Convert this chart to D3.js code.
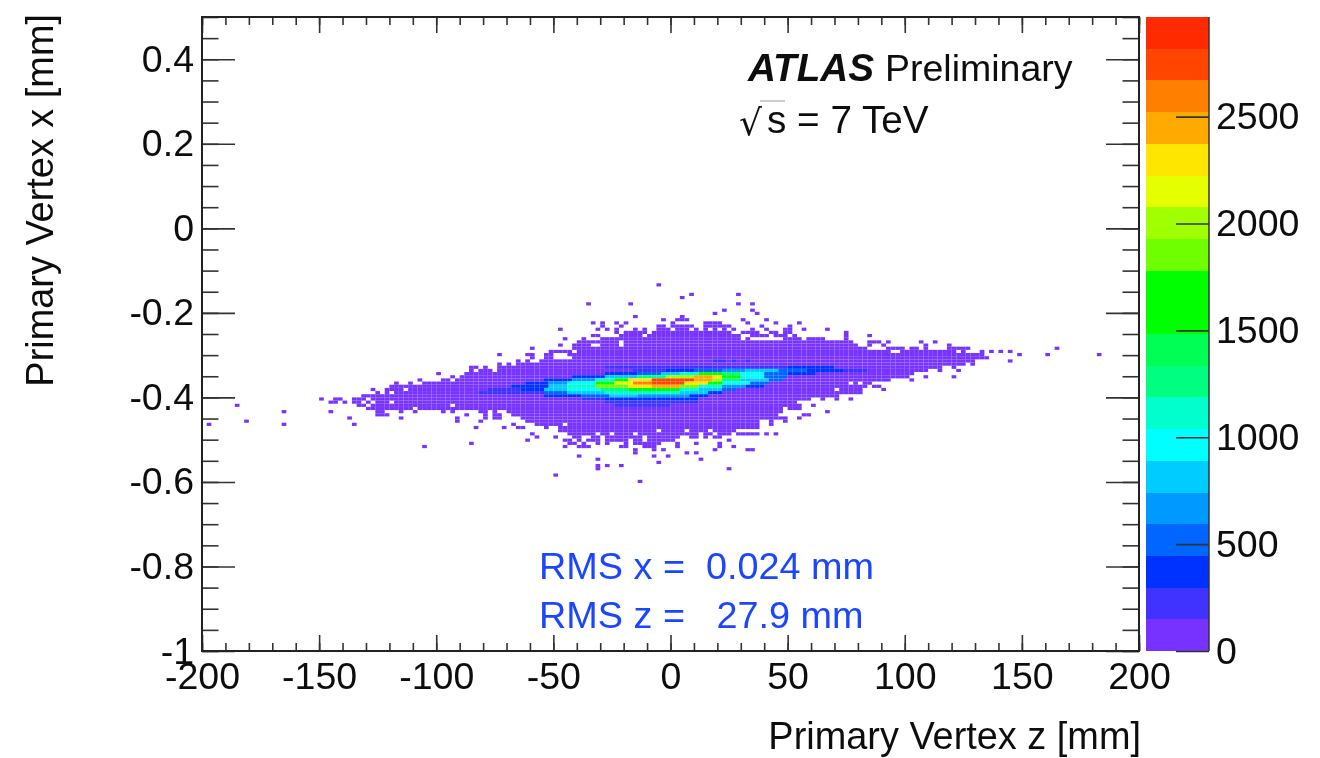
<!DOCTYPE html>
<html>
<head>
<meta charset="utf-8">
<script src="https://cdn.jsdelivr.net/npm/d3@7"></script>
<style>
  html, body { margin: 0; background: #fff; }
  svg { display: block; }
  text { font-family: "Liberation Sans", sans-serif; fill: #111; }
  .axis text { font-size: 37.5px; fill: #111; }
  .axis line { stroke: #333; stroke-width: 1.6; }
  .axis path { display: none; }
  .title { font-size: 37.9px; }
  .rms { font-size: 37.8px; fill: #1c45ff; white-space: pre; }
</style>
</head>
<body>
<svg id="chart" width="1320" height="758"></svg>
<script>
// ── Histogram data ───────────────────────────────────────────────────────────
// 200 x 200 bins. Rows are x bins, runs are z bin ranges [from, to] or [single].

const zBinCount = 200;
const xBinCount = 200;
const lowCount = 70;

const occupiedRows = [
  [115, [[97]]],
  [112, [[104], [114]]],
  [111, [[102]]],
  [109, [[82], [91], [114], [117]]],
  [107, [[111], [117]]],
  [106, [[109], [118]]],
  [105, [[92], [102]]],
  [104, [[98], [101, 103], [115], [120]]],
  [103, [[83], [85], [88], [90], [100], [107, 110], [116], [122], [127]]],
  [102, [[85], [89], [97, 98], [100, 104], [107, 108], [109, 112], [119], [125]]],
  [101, [[76], [84], [86], [88], [92], [94], [97, 99], [101, 103], [105], [107], [109], [111], [113], [117], [120], [124, 125], [128], [133]]],
  [100, [[88], [90, 94], [96, 112], [115, 118], [121, 122], [124, 125], [137]]],
  [99, [[83, 84], [89, 93], [95, 114], [117, 120], [122, 124], [126], [137], [142]]],
  [98, [[77], [81], [85, 114], [116], [124, 127], [129, 132], [137]]],
  [97, [[80, 88], [90, 128], [129, 136], [137, 138], [142, 144], [146], [153], [156]]],
  [96, [[76], [79, 82], [85, 88], [90, 139], [142], [145], [154], [159]]],
  [95, [[70], [79, 141], [146, 149], [151, 152], [154], [159, 162], [163], [182]]],
  [94, [[74, 78], [80, 146], [149, 160], [162], [166], [168], [170], [172]]],
  [93, [[63], [69, 70], [73, 74], [78, 161], [162, 166], [174], [180], [191]]],
  [92, [[70], [73, 74], [79, 167]]],
  [91, [[67], [69], [72, 164], [172]]],
  [90, [[63], [65], [67, 69], [70, 162], [164]]],
  [89, [[57, 58], [60], [63, 157], [160]]],
  [88, [[57], [59, 61], [63, 154], [157], [161]]],
  [87, [[50], [56, 151]]],
  [86, [[53], [55, 150], [154], [160]]],
  [85, [[46], [51, 52], [54, 146], [151]]],
  [84, [[41], [44], [47, 137], [139], [141, 142]]],
  [83, [[40, 44], [45, 141], [143, 144]]],
  [82, [[36], [39, 42], [44, 134], [136, 140], [145]]],
  [81, [[37], [39], [41, 139], [140]]],
  [80, [[34, 135]]],
  [79, [[25], [28, 29], [32, 34], [36, 129], [132], [135], [138]]],
  [78, [[27, 28], [30], [32, 33], [35], [37, 39], [41, 126]]],
  [77, [[7], [33, 34], [36, 52], [54, 127], [130]]],
  [76, [[35, 44], [46, 123], [125, 127]]],
  [75, [[17], [27], [37, 38], [42], [45], [51], [53], [59, 60], [62], [65, 123], [133]]],
  [74, [[37, 39], [56], [60], [62, 63], [66, 122], [128, 129]]],
  [73, [[31], [42], [54], [60], [62, 63], [68, 124], [127]]],
  [72, [[9], [54], [59], [69, 118], [121], [124]]],
  [71, [[1], [17], [32], [66], [71, 76], [78, 118], [121]]],
  [70, [[58], [64], [67, 68], [73], [76, 118]]],
  [69, [[76, 96], [98, 102], [104, 107], [109, 113]]],
  [68, [[70], [78, 83], [85, 86], [88, 91], [93, 105], [107, 108], [110, 112], [114, 117], [118], [120], [122]]],
  [67, [[71], [75], [79, 80], [83, 84], [86, 93], [95, 101], [104, 105], [107], [109, 110]]],
  [66, [[69], [77, 78], [80], [82, 84], [86, 90], [92, 93], [95, 100], [112]]],
  [65, [[57], [78, 79], [81], [84], [86], [90], [92, 97], [101], [105], [110]]],
  [64, [[47], [77], [80, 82], [89, 90], [94, 96], [101], [110], [113]]],
  [63, [[92], [96], [98], [109], [116, 117]]],
  [62, [[92], [103], [105]]],
  [61, [[80], [96], [99]]],
  [60, [[84], [106]]],
  [59, [[97]]],
  [58, [[84], [86], [89]]],
  [57, [[84], [112]]],
  [55, [[75]]],
  [53, [[93]]],
];

// Hot core: [x bin, z from, z to, count]
const coreRuns = [
  [91, 109, 111, 220], [91, 113, 113, 220], [91, 116, 116, 220],
  [89, 86, 109, 220], [89, 110, 124, 220], [89, 125, 134, 370],
  [88, 92, 98, 220], [88, 99, 104, 370], [88, 105, 110, 520], [88, 111, 115, 670], [88, 116, 122, 810],
  [88, 123, 128, 520], [88, 129, 136, 370], [88, 137, 141, 220],
  [87, 86, 92, 370], [87, 93, 97, 520], [87, 98, 101, 810], [87, 102, 105, 1110], [87, 106, 110, 1560],
  [87, 111, 114, 1260], [87, 115, 119, 960], [87, 120, 124, 520], [87, 125, 130, 370],
  [86, 79, 85, 370], [86, 86, 92, 810], [86, 93, 98, 1260], [86, 99, 104, 2000], [86, 105, 108, 2450],
  [86, 109, 110, 2300], [86, 111, 114, 1560], [86, 115, 119, 960], [86, 120, 124, 520],
  [85, 73, 78, 370], [85, 79, 83, 670], [85, 84, 87, 1110], [85, 88, 90, 1560], [85, 91, 95, 2300],
  [85, 96, 104, 2750], [85, 105, 108, 2450], [85, 109, 110, 2000], [85, 111, 114, 1260], [85, 115, 120, 810], [85, 121, 123, 520],
  [84, 69, 73, 370], [84, 74, 77, 670], [84, 78, 83, 960], [84, 84, 87, 1560], [84, 88, 91, 2200], [84, 92, 95, 2600],
  [84, 96, 102, 2750], [84, 103, 107, 2300], [84, 108, 110, 1560], [84, 111, 116, 960], [84, 117, 120, 520],
  [83, 66, 73, 370], [83, 74, 77, 810], [83, 78, 83, 1110], [83, 84, 90, 1850], [83, 91, 95, 2300],
  [83, 96, 101, 2450], [83, 102, 105, 1850], [83, 106, 110, 1110], [83, 111, 115, 670], [83, 116, 119, 370],
  [82, 61, 67, 220], [82, 68, 72, 370], [82, 73, 77, 810], [82, 78, 84, 960], [82, 85, 90, 1260],
  [82, 91, 101, 1700], [82, 102, 105, 1110], [82, 106, 110, 810], [82, 111, 113, 520],
  [81, 59, 66, 220], [81, 67, 72, 220], [81, 73, 77, 520], [81, 78, 85, 810], [81, 86, 101, 1110],
  [81, 102, 107, 810], [81, 108, 110, 370],
  [80, 73, 80, 370], [80, 81, 86, 520], [80, 87, 92, 810], [80, 93, 103, 670], [80, 104, 107, 370],
  [79, 81, 85, 220], [79, 86, 105, 370],
  [78, 86, 105, 220],
  [77, 88, 99, 220],
];

const bandColors = [
  '#7733ff', '#3f33ff', '#0033ff', '#0066ff', '#0099ff', '#00ccff', '#00ffff', '#00ffcc', '#00ff80', '#00ff55',
  '#00ff00', '#00ff00', '#70ff00', '#a0ff00', '#e6ff00', '#ffe600', '#ffaa00', '#ff8000', '#ff4400', '#ff2a00',
];
const countMax = 2966;

const zTicks = [-200, -150, -100, -50, 0, 50, 100, 150, 200];
const zMinorTicks = d3.range(-200, 201, 10);
const xTicks = [-1, -0.8, -0.6, -0.4, -0.2, 0, 0.2, 0.4];
const xMinorTicks = d3.range(-1, 0.5001, 0.05);
const countTicks = [0, 500, 1000, 1500, 2000, 2500];

// ── Layout & scales ──────────────────────────────────────────────────────────

const plot = { left: 202, right: 1139, top: 17, bottom: 651 };
const bar = { left: 1146, right: 1209 };

const zScale = d3.scaleLinear().domain([-200, 200]).range([plot.left, plot.right]);
const xScale = d3.scaleLinear().domain([-1, 0.5]).range([plot.bottom, plot.top]);
const zBin = d3.scaleLinear().domain([0, zBinCount]).range(zScale.domain());
const xBin = d3.scaleLinear().domain([0, xBinCount]).range(xScale.domain());
const countScale = d3.scaleLinear().domain([0, countMax]).range([plot.bottom, plot.top]);
const colorScale = d3.scaleQuantize().domain([0, countMax]).range(bandColors);
const bandStep = countMax / bandColors.length;

const svg = d3.select('#chart');
const root = svg.append('g');

// Slight softening, the reference is an upscaled bitmap
const blur = svg.append('defs').append('filter').attr('id', 'soft')
  .attr('x', 0).attr('y', 0).attr('width', 1).attr('height', 1);
blur.append('feGaussianBlur').attr('stdDeviation', 0.45);
root.attr('filter', 'url(#soft)');

root.append('rect').attr('width', 1320).attr('height', 758).attr('fill', '#fff');

// ── Cells ────────────────────────────────────────────────────────────────────

const cells = new Map();
for (const [row, runs] of occupiedRows) {
  for (const run of runs) {
    const end = run.length > 1 ? run[1] : run[0];
    for (let i = run[0]; i <= end; i++) cells.set(`${row}:${i}`, { row, col: i, count: lowCount });
  }
}
for (const [row, from, to, count] of coreRuns) {
  for (let i = from; i <= to; i++) cells.set(`${row}:${i}`, { row, col: i, count });
}

// Outside the blurred group, so the seams between cells stay visible
svg.append('g')
  .selectAll('rect')
  .data([...cells.values()])
  .join('rect')
  .attr('x', (d) => zScale(zBin(d.col)))
  .attr('y', (d) => xScale(xBin(d.row + 1)))
  .attr('width', (d) => zScale(zBin(d.col + 1)) - zScale(zBin(d.col)))
  .attr('height', (d) => xScale(xBin(d.row)) - xScale(xBin(d.row + 1)))
  .attr('fill', (d) => colorScale(d.count));

// ── Colour bar ───────────────────────────────────────────────────────────────

root.append('g')
  .attr('shape-rendering', 'crispEdges')
  .selectAll('rect')
  .data(bandColors)
  .join('rect')
  .attr('x', bar.left)
  .attr('width', bar.right - bar.left)
  .attr('y', (d, i) => countScale((i + 1) * bandStep))
  .attr('height', (d, i) => countScale(i * bandStep) - countScale((i + 1) * bandStep))
  .attr('fill', (d) => d);

root.append('line')
  .attr('x1', bar.right).attr('x2', bar.right)
  .attr('y1', plot.top).attr('y2', plot.bottom)
  .attr('stroke', '#333').attr('stroke-width', 1.5);

root.append('g')
  .attr('class', 'axis')
  .attr('transform', `translate(${bar.right}, 0)`)
  .call(d3.axisRight(countScale).tickValues(countTicks).tickSize(-33).tickPadding(7).tickFormat(d3.format('d')));

// ── Axes ─────────────────────────────────────────────────────────────────────

const noLabel = () => '';

root.append('g').attr('class', 'axis').attr('transform', `translate(0, ${plot.bottom})`)
  .call(d3.axisBottom(zScale).tickValues(zTicks).tickSize(-16).tickPadding(11).tickFormat(d3.format('d')));
root.append('g').attr('class', 'axis').attr('transform', `translate(0, ${plot.bottom})`)
  .call(d3.axisBottom(zScale).tickValues(zMinorTicks).tickSize(-8).tickFormat(noLabel));
root.append('g').attr('class', 'axis').attr('transform', `translate(0, ${plot.top})`)
  .call(d3.axisTop(zScale).tickValues(zTicks).tickSize(-16).tickFormat(noLabel));
root.append('g').attr('class', 'axis').attr('transform', `translate(0, ${plot.top})`)
  .call(d3.axisTop(zScale).tickValues(zMinorTicks).tickSize(-8).tickFormat(noLabel));

root.append('g').attr('class', 'axis').attr('transform', `translate(${plot.left}, 0)`)
  .call(d3.axisLeft(xScale).tickValues(xTicks).tickSize(-33).tickPadding(8).tickFormat(d3.format('~g')));
root.append('g').attr('class', 'axis').attr('transform', `translate(${plot.left}, 0)`)
  .call(d3.axisLeft(xScale).tickValues(xMinorTicks).tickSize(-16.5).tickFormat(noLabel));
root.append('g').attr('class', 'axis').attr('transform', `translate(${plot.right}, 0)`)
  .call(d3.axisRight(xScale).tickValues(xTicks).tickSize(-33).tickFormat(noLabel));
root.append('g').attr('class', 'axis').attr('transform', `translate(${plot.right}, 0)`)
  .call(d3.axisRight(xScale).tickValues(xMinorTicks).tickSize(-16.5).tickFormat(noLabel));

// Plain hyphen labels like the original
root.selectAll('.axis text').text(function () { return this.textContent.replace('\u2212', '-'); });

root.append('rect')
  .attr('x', plot.left).attr('y', plot.top)
  .attr('width', plot.right - plot.left).attr('height', plot.bottom - plot.top)
  .attr('fill', 'none').attr('stroke', '#222').attr('stroke-width', 2);

// ── Titles & notes ───────────────────────────────────────────────────────────

root.append('text').attr('class', 'title')
  .attr('x', 1141).attr('y', 749).attr('text-anchor', 'end')
  .text('Primary Vertex z [mm]');

root.append('text').attr('class', 'title')
  .attr('transform', 'translate(53, 14) rotate(-90)').attr('text-anchor', 'end')
  .text('Primary Vertex x [mm]');

root.append('text')
  .attr('x', 748).attr('y', 81)
  .attr('font-size', 38.7).attr('font-weight', 'bold').attr('font-style', 'italic')
  .text('ATLAS');
root.append('text')
  .attr('x', 885).attr('y', 81).attr('font-size', 37.5)
  .text('Preliminary');

root.append('text')
  .attr('x', 739).attr('y', 135)
  .attr('font-size', 36).style('font-family', '"DejaVu Serif"')
  .text('\u221A');
root.append('line')
  .attr('x1', 760).attr('x2', 785).attr('y1', 101).attr('y2', 101)
  .attr('stroke', '#999').attr('stroke-width', 1);
root.append('text')
  .attr('x', 767).attr('y', 133).attr('font-size', 38.7)
  .text('s = 7 TeV');

root.append('text').attr('class', 'rms')
  .attr('x', 539).attr('y', 579)
  .text('RMS x =  0.024 mm');
root.append('text').attr('class', 'rms')
  .attr('x', 539).attr('y', 628)
  .text('RMS z =   27.9 mm');
</script>
</body>
</html>
